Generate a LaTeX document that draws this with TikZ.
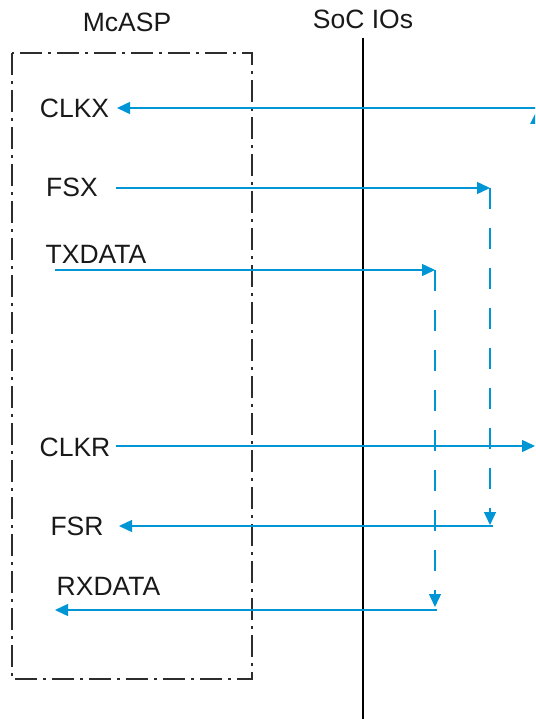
\documentclass[tikz,border=0pt]{standalone}
\usepackage{fontspec}
\setmainfont{Liberation Sans}
\usetikzlibrary{arrows.meta}
\definecolor{sigblue}{RGB}{0,150,214}
\definecolor{boxgray}{RGB}{45,45,45}
\begin{document}
\begin{tikzpicture}[x=1pt,y=-1pt,
  lbl/.style={font=\fontsize{26.5}{30}\selectfont, text=black!90, inner sep=0pt},
  sig/.style={draw=sigblue, line width=1.4pt},
  tip/.style={-{Triangle[length=13pt,width=12pt]}},
  dsig/.style={sig, dash pattern=on 21pt off 19pt},
  mbox/.style={draw=boxgray, line width=1.2pt, dash pattern=on 22pt off 6pt on 3pt off 6pt}
]
\useasboundingbox (0,0) rectangle (535,719);
\clip (0,0) rectangle (535,719);
% McASP box
\draw[mbox] (12,53) rectangle (252,679);
% titles
\node[lbl] (mcasp) at (127,22) {McASP};
\node[lbl] (soc) at (363,19) {SoC IOs};
% SoC boundary
\coordinate (socTop) at (363,38);
\coordinate (socBot) at (363,719);
\draw[black, line width=1.5pt] (socTop) -- (socBot);
% labels
\node[lbl] (clkx) at (74.5,108) {CLKX};
\node[lbl] (fsx) at (72,187) {FSX};
\node[lbl] (txdata) at (96,254) {TXDATA};
\node[lbl] (clkr) at (75,447) {CLKR};
\node[lbl] (fsr) at (77,526) {FSR};
\node[lbl] (rxdata) at (108.5,586) {RXDATA};
% coordinates
\coordinate (cxR) at (536,108);
\coordinate (cxL) at (117,108);
\coordinate (fxL) at (116,188);
\coordinate (fxR) at (490,188);
\coordinate (fxD) at (490,525);
\coordinate (frR) at (493,526);
\coordinate (frL) at (119,526);
\coordinate (txL) at (55,270);
\coordinate (txR) at (435,270);
\coordinate (txD) at (435,607);
\coordinate (rxR) at (437,610);
\coordinate (rxL) at (55,610);
\coordinate (crL) at (116,446);
\coordinate (crR) at (535,446);
% connectors
\draw[sig,tip] (cxR) -- (cxL);
\draw[sig,tip] (fxL) -- (fxR);
\draw[dsig,tip] (fxR) -- (fxD);
\draw[sig,tip] (frR) -- (frL);
\draw[sig,tip] (txL) -- (txR);
\draw[dsig,tip] (txR) -- (txD);
\draw[sig,tip] (rxR) -- (rxL);
\draw[sig,tip] (crL) -- (crR);
% partial up arrowhead at right edge
\fill[sigblue] (530,124) -- (536,112) -- (542,124) -- cycle;
\end{tikzpicture}
\end{document}
